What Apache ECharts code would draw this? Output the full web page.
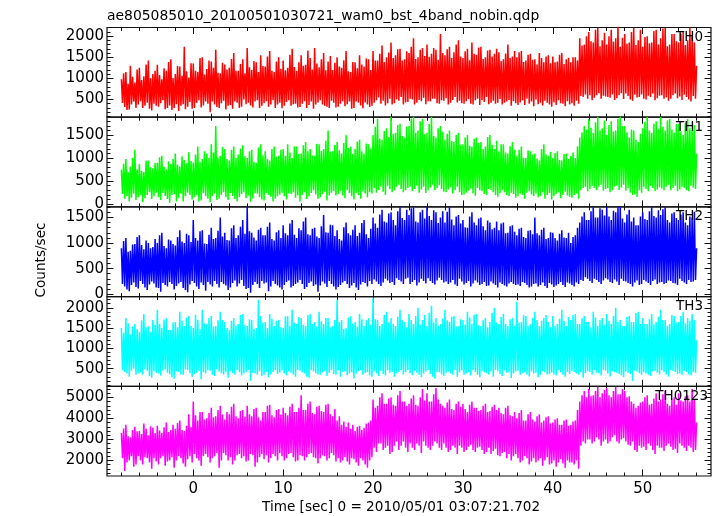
<!DOCTYPE html>
<html>
<head>
<meta charset="utf-8">
<script src="https://cdn.jsdelivr.net/npm/echarts@6/dist/echarts.min.js"></script>
<style>html,body{margin:0;padding:0;background:#fff;}#c{width:717px;height:516px;}</style>
</head>
<body>
<div id="c"></div>
<script>
// ---- data: for each 0.25 s bin starting at tStart, the high and the low count rate ----
const tStart = -8, tStep = 0.25;
const panelNames = ['TH0', 'TH1', 'TH2', 'TH3', 'TH0123'];

const th0Hi = [
980,1120,1150,870,1300,1040,900,1210, 1250,960,1050,1330,1420,1000,1100,1180,
1320,1080,980,1240,1180,1390,1450,1010, 1100,1290,1280,1060,1750,1170,1020,1360,
1350,1180,1150,1480,1500,1090,1220,1420, 1400,1250,1680,1130,1120,1370,1330,1210,
1250,1460,1600,1180,1180,1340,1450,1120, 1720,1260,1200,1410,1380,1150,1550,1290,
1280,1520,1650,1180,1150,1400,1500,1230, 1420,1190,1250,1560,1700,1270,1180,1380,
1550,1300,1320,1660,1480,1210,1720,1350, 1260,1450,1600,1190,1400,1530,1200,1370,
1500,1280,1250,1430,1650,1170,1150,1390, 1380,1240,1550,1330,1280,1470,1450,1200,
1650,1420,1420,1580,1780,1390,1500,1610, 1850,1480,1550,1690,1700,1420,1450,1640,
1600,1750,1950,1460,1500,1680,1720,1530, 1800,1510,1580,1720,1680,1440,2050,1600,
1550,1690,1750,1480,1620,1800,1900,1520, 1480,1640,1700,1430,1850,1580,1560,1730,
1750,1460,1500,1660,1680,1520,1580,1700, 1620,1410,1450,1590,1800,1480,1520,1650,
1500,1620,1650,1390,1420,1560,1580,1440, 1450,1330,1600,1480,1380,1520,1550,1360,
1520,1380,1400,1560,1600,1340,1450,1490, 1380,1500,1500,1420,1950,1780,1800,2000,
2100,1880,1850,2150,2200,1760,1900,2080, 1800,2000,2150,1870,1950,2250,1750,1960,
2050,1820,1850,2100,2200,1790,1900,2150, 1750,1980,2000,1830,1850,2120,2150,1800,
1950,2180,2200,1760,1800,2050,2050,1880, 1850,2060,2100,1790,1900,2200,2000,1850,
1300];
const th0Lo = [
420,320,250,260,380,450,300,380, 460,300,350,420,280,240,400,350,
330,410,480,270,300,360,250,300, 390,230,350,390,270,330,440,280,
300,420,480,310,360,450,400,200, 450,380,320,300,410,470,260,350,
370,280,450,420,300,330,500,390, 420,360,310,450,480,300,350,410,
460,330,380,480,300,380,420,290, 350,440,480,350,390,400,310,320,
400,460,300,370,450,280,380,430, 480,380,350,330,300,470,420,310,
330,400,460,340,390,450,280,300, 450,420,360,290,430,380,320,350,
420,480,550,400,470,360,410,520, 380,410,500,470,560,380,430,440,
520,500,380,420,490,460,540,390, 460,450,520,520,410,400,480,470,
530,380,420,490,560,430,470,410, 400,460,510,400,380,480,520,370,
480,440,560,390,420,470,400,420, 510,380,420,450,490,350,460,410,
370,430,480,370,520,400,450,340, 500,390,420,360,470,420,380,330,
430,370,480,410,400,340,460,380, 410,350,470,400,580,560,620,520,
600,480,540,600,650,520,590,570, 560,540,620,490,530,600,650,510,
640,580,500,470,610,550,560,620, 520,500,590,560,640,480,530,590,
600,520,550,470,520,600,640,530, 570,490,610,560,500,450,580,520];

const th1Hi = [
750,880,980,700,820,1000,1180,760, 880,720,700,950,950,800,780,900,
900,1020,1050,810,760,930,870,980, 1100,860,820,1040,960,890,1130,940,
900,1080,1250,920,980,1150,1100,1000, 1300,1120,1700,1010,1050,1240,1200,980,
950,1180,1250,1000,1080,1210,1280,1040, 1000,1150,1180,920,900,1230,1300,1060,
1150,980,950,1200,1250,1030,1050,1180, 1200,1050,1300,1120,1000,1260,1250,1090,
1100,1280,1350,1150,1200,1060,1050,1310, 1300,1160,1200,1380,1600,1140,1150,1290,
1350,1170,1100,1330,1500,1220,1250,1090, 1200,1360,1400,1150,1100,1320,1300,1210,
1500,1680,1850,1420,1400,1590,1650,1460, 1900,1530,1550,1720,1750,1480,1450,1690,
1700,1860,1900,1550,1600,1800,1850,1520, 1550,1740,1900,1480,1450,1650,1700,1580,
1400,1530,1600,1370,1350,1500,1550,1290, 1300,1450,1500,1270,1250,1420,1450,1330,
1350,1200,1250,1460,1500,1290,1200,1380, 1150,1300,1300,1120,1100,1260,1350,1180,
1050,1180,1250,1010,1000,1170,1150,1080, 1100,990,950,1200,1300,1080,1050,1140,
1000,1110,1150,960,950,1090,1100,980, 1050,1120,1000,1260,1450,1560,1700,1620,
1850,1660,1550,1780,1900,1600,1650,1820, 1500,1720,1800,1580,1600,1850,1900,1700,
1700,1560,1450,1620,1600,1400,1350,1530, 1650,1790,1900,1600,1550,1750,1800,1640,
1900,1680,1600,1820,1850,1620,1550,1740, 1750,1580,1500,1760,1850,1650,1600,1720,
1100];
const th1Lo = [
220,120,180,60,140,230,90,150, 200,40,130,200,260,110,170,250,
150,90,240,180,110,30,200,220, 60,140,230,60,170,250,200,100,
150,200,60,80,240,170,120,40, 180,230,90,120,200,260,150,90,
240,180,110,60,150,220,260,130, 190,50,120,240,230,150,100,80,
240,200,160,60,120,170,210,250, 170,100,230,220,260,140,190,60,
200,260,110,170,240,300,210,120, 150,220,270,80,190,250,280,190,
220,280,190,130,300,240,170,100, 250,200,120,280,230,150,260,230,
350,250,310,380,270,200,400,330, 260,300,380,420,330,260,300,350,
380,280,330,400,250,320,380,240, 300,360,420,300,350,410,330,270,
260,320,370,230,300,380,260,200, 210,250,290,340,230,180,350,300,
280,220,200,330,310,260,200,160, 240,300,260,200,180,250,220,140,
170,230,200,120,250,280,210,180, 230,150,180,260,120,200,240,100,
180,220,260,130,200,270,190,160, 140,200,230,120,300,350,380,280,
330,400,350,300,380,420,290,330, 350,260,300,380,400,310,360,420,
290,350,250,200,210,160,300,250, 380,330,280,400,350,280,320,370,
340,300,380,420,300,350,400,280, 320,380,350,300,280,400,360,330];

const th2Hi = [
900,1040,1100,830,850,970,980,1120, 1150,960,880,1050,1000,900,920,1080,
1000,1150,1200,940,900,1070,1050,980, 950,1120,1250,1030,1000,1180,1150,1020,
1450,1100,1050,1230,1250,990,980,1160, 1300,1080,1100,1240,1500,1130,1200,1060,
1050,1290,1350,1100,1150,1320,1450,1180, 1700,1230,1200,1110,1050,1260,1300,1150,
1150,1320,1400,1080,1050,1210,1250,1100, 1350,1190,1150,1380,1450,1160,1100,1290,
1250,1420,1500,1170,1150,1280,1300,1130, 1100,1330,1550,1210,1200,1360,1350,1140,
1250,1080,1050,1310,1400,1190,1150,1260, 1350,1140,1200,1390,1450,1170,1100,1280,
1500,1380,1300,1560,1650,1420,1400,1580, 1600,1450,1350,1620,1700,1490,1450,1650,
1550,1680,1700,1420,1400,1600,1650,1480, 1700,1530,1450,1640,1600,1390,1500,1620,
1400,1610,1700,1460,1350,1520,1550,1380, 1450,1310,1300,1520,1600,1400,1350,1480,
1500,1330,1250,1440,1400,1270,1300,1420, 1250,1380,1400,1190,1200,1330,1350,1220,
1150,1280,1300,1120,1100,1240,1250,1170, 1500,1190,1150,1260,1300,1080,1100,1210,
1200,1100,1050,1180,1250,1110,1100,1200, 1000,1120,1150,1300,1400,1520,1600,1450,
1450,1620,1700,1500,1500,1680,1650,1540, 1700,1520,1450,1630,1600,1700,1700,1480,
1400,1560,1650,1420,1500,1350,1350,1520, 1600,1470,1450,1620,1700,1530,1500,1640,
1550,1660,1700,1450,1400,1580,1600,1490, 1450,1560,1600,1400,1350,1520,1500,1610,
900];
const th2Lo = [
200,150,90,60,180,230,140,110, 260,200,130,80,190,250,210,130,
120,50,220,180,150,240,200,90, 160,210,240,120,80,40,190,260,
220,150,100,230,180,70,240,190, 150,260,200,130,240,200,170,80,
130,220,270,150,210,280,160,100, 120,30,180,240,200,120,260,210,
230,60,150,260,200,170,130,90, 180,240,270,130,160,200,230,280,
200,100,140,220,250,160,190,50, 170,250,210,140,260,200,150,90,
140,180,230,260,200,120,170,220, 130,80,190,240,220,150,260,200,
290,250,200,160,230,300,270,220, 240,180,310,280,250,200,300,320,
200,240,280,170,230,300,260,210, 310,260,220,190,270,320,280,230,
250,200,230,280,190,160,300,250, 190,220,260,150,210,270,230,180,
200,240,160,170,250,210,180,130, 230,200,170,150,210,240,200,180,
190,160,240,220,180,130,150,200, 210,150,180,230,160,120,220,190,
140,170,200,240,180,140,230,210, 180,150,230,200,280,260,330,300,
260,220,300,280,240,200,270,310, 290,240,220,290,250,180,300,260,
250,220,200,150,230,270,180,200, 280,250,220,180,260,290,200,230,
240,200,220,270,260,220,210,180, 300,260,230,200,280,240,250,280];

const th3Hi = [
1500,1380,1750,1620,1350,1540,1600,1470, 1400,1690,1850,1520,1550,1400,1700,1580,
1950,1600,1500,1710,1750,1450,1450,1640, 1650,1520,1900,1680,1550,1760,1800,1560,
1500,1830,1700,1480,1950,1620,1600,1750, 1800,1540,1550,1690,1900,1700,1650,1500,
1450,1680,1750,1560,1600,1820,1850,1590, 1550,1720,1700,1480,1500,2200,1800,1630,
1650,1500,1850,1730,1550,1680,1700,1520, 1500,1790,1800,1560,1950,1640,1600,1770,
1750,1580,1550,1820,1850,1600,1650,1540, 1900,1670,1600,1750,1750,1520,1550,1700,
2200,1650,1700,1480,1500,1760,1800,1610, 1650,1540,1850,1720,1550,1690,1750,1580,
2250,1720,1700,1550,1600,1830,1900,1640, 1750,1600,1550,1780,1950,1690,1650,1520,
1850,1700,1600,1800,2000,1580,1700,1820, 1550,1880,2050,1640,1750,1560,1600,1730,
1950,1690,1650,1780,1800,1540,1550,1720, 1700,1590,1900,1760,1600,1830,1850,1570,
1550,1700,1750,1520,1650,1880,2000,1640, 1600,1780,1850,1600,1550,1720,1750,1560,
2150,1640,1650,1820,1800,1560,1600,1750, 1900,1700,1550,1680,1750,1820,1650,1520,
1800,1560,1600,1730,1950,1680,1550,1770, 1700,1820,1850,1600,1600,1740,1800,1650,
1650,1520,1900,1760,1550,1700,1750,1580, 1850,1680,1600,1800,2000,1650,1700,1560,
1550,1780,1800,1650,1650,1870,1900,1600, 1750,1600,1600,1720,1850,1590,1650,1780,
1950,1700,1700,1560,1600,1820,1800,1640, 1650,1800,1900,1620,1750,1680,1850,1700,
1200];
const th3Lo = [
460,420,380,300,450,500,350,380, 410,350,480,450,320,280,440,400,
380,330,450,480,400,360,290,250, 430,420,360,350,480,470,390,300,
370,400,450,240,420,380,460,450, 350,320,480,430,390,360,420,280,
440,390,350,460,410,330,380,410, 470,200,400,380,350,440,320,350,
420,290,360,420,460,370,400,460, 380,330,430,400,350,300,470,450,
410,380,300,280,460,430,390,360, 350,410,450,320,400,470,370,350,
460,300,420,430,340,380,410,260, 380,440,470,350,400,410,330,300,
440,380,320,450,370,330,460,400, 420,300,380,420,460,360,410,470,
390,340,450,400,350,290,380,430, 470,370,300,250,420,410,360,320,
400,430,380,350,460,300,410,460, 350,380,420,330,470,420,350,290,
440,410,390,360,430,300,470,440, 370,320,460,400,410,270,380,430,
450,350,390,420,360,310,430,380, 400,290,350,440,410,360,370,400,
360,330,460,410,350,300,420,370, 450,420,380,350,410,280,390,440,
420,360,470,400,380,330,460,450, 380,310,440,420,400,370,330,290,
430,400,370,200,450,430,390,350, 410,380,350,320,430,450,400,360,
460,410,360,300,470,440,420,370, 380,350,450,420,360,330,410,400];

const th0123Hi = [
3300,3520,3700,3150,3100,3450,3600,3380, 3400,3250,3750,3500,3200,3620,3550,3300,
3650,3420,3300,3580,3800,3350,3450,3700, 3500,3780,3900,3450,3400,3650,4200,3600,
4800,4150,3900,4300,4300,3950,4000,4250, 4500,4050,4100,4400,4600,4180,3950,4300,
4200,4550,4700,4100,4000,4350,4400,4080, 4600,4200,4100,4450,4500,4050,3900,4300,
4300,4600,4650,4150,4050,4400,4450,4180, 4500,4250,4150,4550,4700,4300,4300,4500,
5100,4400,4400,4700,4800,4250,4200,4550, 4600,4350,4300,4650,4700,4200,4100,4450,
3900,4100,3700,3850,3600,3800,3500,3700, 3400,3600,3650,3450,3550,3750,3800,3900,
4900,4500,4600,5000,5200,4700,4700,4950, 5000,4650,4600,5100,5300,4800,4800,4600,
4700,4950,5100,4650,4600,5000,5400,4850, 5200,4800,4800,5150,5450,4900,4700,4600,
4500,4750,4900,4450,4400,4700,4800,4550, 4700,4450,4300,4650,4800,4500,4500,4350,
4400,4600,4700,4300,4350,4550,4650,4400, 4500,4250,4200,4500,4600,4150,4100,4300,
4000,4250,4400,3900,3900,4200,4300,3950, 3850,4100,4200,3800,3900,4050,4100,3750,
3800,3950,4000,3700,3700,3900,3950,3650, 3700,3850,3900,4400,4800,5100,5300,5000,
5400,5050,5100,5300,5500,5000,5200,5350, 5450,5100,5000,5300,5500,5150,5150,5400,
5300,5000,5050,4800,4700,4500,4600,4750, 4800,5000,5100,4650,4700,4950,5200,4800,
4900,5150,5300,4700,4600,4900,5000,4650, 5200,4850,4800,5050,5100,4800,5400,4900,
3800];
const th0123Lo = [
2100,1500,1900,2000,2200,1700,1800,2200, 2000,1800,2150,2100,1900,1600,2100,1950,
1800,2100,2200,1750,1950,2000,2150,1650, 2000,2200,2100,1850,1700,2050,2200,1900,
2300,2100,2000,1750,2200,2300,2150,1900, 2100,2200,2350,1650,2000,2350,2250,2000,
2150,1800,2000,2250,2300,2100,2200,1950, 2000,2300,2250,1700,1900,2150,2300,2050,
2250,1900,2100,2300,2200,2000,2350,2200, 2000,2100,2300,2350,2150,1950,2000,2250,
2200,2000,2150,2300,2350,2150,2100,1850, 2100,2250,2200,2000,2100,2350,2250,1950,
2100,1900,2000,2150,1950,1800,2100,2050, 1900,1750,2100,2000,1800,1650,2000,2150,
2600,2400,2800,2800,2500,2600,2700,2300, 2400,2700,2900,2500,2700,2900,2600,2400,
2800,2600,2500,2800,2700,2350,2900,2700, 2600,2500,2700,2900,2800,2600,2500,2800,
2600,2400,2500,2700,2600,2300,2700,2600, 2400,2500,2650,2750,2500,2400,2600,2650,
2500,2300,2400,2600,2300,2450,2550,2250, 2200,2350,2400,2100,2300,2000,2200,2300,
2100,1900,2000,2200,2100,1800,1950,2100, 1900,2000,2100,1750,2000,2150,1800,1850,
2000,1700,1900,2050,1850,1650,2000,1900, 1900,1800,2000,1600,2700,2900,2800,3000,
3000,2800,2900,3100,3000,2700,2900,3000, 2800,2900,3100,3200,2900,2800,3000,3050,
2900,2750,2700,2900,2500,2400,2700,2600, 2650,2500,2800,2700,2500,2300,2700,2600,
2600,2450,2700,2800,2650,2500,2550,2350, 2800,2700,2600,2450,2700,2600,2400,2500];

const seriesHi = [th0Hi, th1Hi, th2Hi, th3Hi, th0123Hi];
const seriesLo = [th0Lo, th1Lo, th2Lo, th3Lo, th0123Lo];
const seriesColors = ['#ff0000', '#00ff00', '#0000ff', '#00ffff', '#ff00ff'];

// ---- axes ----
const xRange = [-9.6, 57.6];
const xMajor = [0, 10, 20, 30, 40, 50];
const xMinor = [-8,-6,-4,-2,0,2,4,6,8,10,12,14,16,18,20,22,24,26,28,30,32,34,36,38,40,42,44,46,48,50,52,54,56];
const yRanges = [[80, 2205], [-60, 1890], [-47, 1707], [66, 2276], [1256, 5526]];
const yMajor = [[500,1000,1500,2000],[0,500,1000,1500],[0,500,1000,1500],[500,1000,1500,2000],[2000,3000,4000,5000]];
const yMinorStep = [100, 100, 100, 100, 200];

const FONT = 'DejaVu Sans';
const gridTop = 27.5, gridH = 89.7, gridLeft = 107, gridRight = 6;

const grids = [], xAxes = [], yAxes = [], series = [], graphics = [];
function range(a, b, s) { const r = []; for (let v = a; v <= b + 1e-9; v += s) r.push(v); return r; }
const plain = v => String(v);

for (let i = 0; i < 5; i++) {
  grids.push({ left: gridLeft, right: gridRight, top: gridTop + gridH * i, height: gridH,
    show: true, borderColor: '#111', borderWidth: 1.2, backgroundColor: 'transparent', containLabel: false });
  const yr = yRanges[i];
  const yMin = range(Math.ceil(yr[0] / yMinorStep[i]) * yMinorStep[i], yr[1], yMinorStep[i]);
  ['bottom', 'top'].forEach(pos => {
    [true, false].forEach(major => {
      xAxes.push({
        type: 'value', gridIndex: i, position: pos, min: xRange[0], max: xRange[1],
        axisLine: { show: false, onZero: false }, splitLine: { show: false },
        axisTick: { show: true, inside: true, length: major ? 6.5 : 3.5, customValues: major ? xMajor : xMinor,
          lineStyle: { color: '#111', width: 1 } },
        axisLabel: { show: major && pos === 'bottom' && i === 4, customValues: xMajor, margin: 6,
          formatter: plain, fontFamily: FONT, fontSize: 15, color: '#000' }
      });
    });
  });
  ['left', 'right'].forEach(pos => {
    [true, false].forEach(major => {
      yAxes.push({
        type: 'value', gridIndex: i, position: pos, min: yr[0], max: yr[1],
        axisLine: { show: false, onZero: false }, splitLine: { show: false },
        axisTick: { show: true, inside: true, length: major ? 6.5 : 3.5, customValues: major ? yMajor[i] : yMin,
          lineStyle: { color: '#111', width: 1 } },
        axisLabel: { show: major && pos === 'left', customValues: yMajor[i], margin: 3,
          formatter: plain, fontFamily: FONT, fontSize: 15, color: '#000' }
      });
    });
  });
  // each bin: high at the bin time, low half a bin later -> dense zigzag like the unbinned light curve
  const hi = seriesHi[i], lo = seriesLo[i], pts = [];
  for (let k = 0; k < hi.length; k++) {
    pts.push([tStart + k * tStep, hi[k]]);
    if (k < lo.length) pts.push([tStart + (k + 0.5) * tStep, lo[k]]);
  }
  series.push({
    type: 'line', xAxisIndex: 4 * i, yAxisIndex: 4 * i, showSymbol: false, symbol: 'none',
    clip: true, animation: false,
    lineStyle: { color: seriesColors[i], width: 1.5 },
    data: pts
  });
  graphics.push({ type: 'text', right: i === 4 ? 9 : 14, top: gridTop + gridH * i + 3, z: 100,
    style: { text: panelNames[i], font: '13.5px "' + FONT + '"', fill: '#000' } });
}

graphics.push({ type: 'text', left: 107, top: 9, style: { text: 'ae805085010_20100501030721_wam0_bst_4band_nobin.qdp', font: '13.9px "' + FONT + '"', fill: '#000' } });
graphics.push({ type: 'text', left: 262, top: 500, style: { text: 'Time [sec] 0 = 2010/05/01 03:07:21.702', font: '13.6px "' + FONT + '"', fill: '#000' } });
graphics.push({ type: 'text', x: 41, y: 260, rotation: Math.PI / 2,
  style: { text: 'Counts/sec', font: '13.6px "' + FONT + '"', fill: '#000', align: 'center', verticalAlign: 'middle' } });

const chart = echarts.init(document.getElementById('c'), null, { renderer: 'canvas' });
chart.setOption({
  animation: false,
  grid: grids, xAxis: xAxes, yAxis: yAxes, series: series, graphic: graphics
});
</script>
</body>
</html>
